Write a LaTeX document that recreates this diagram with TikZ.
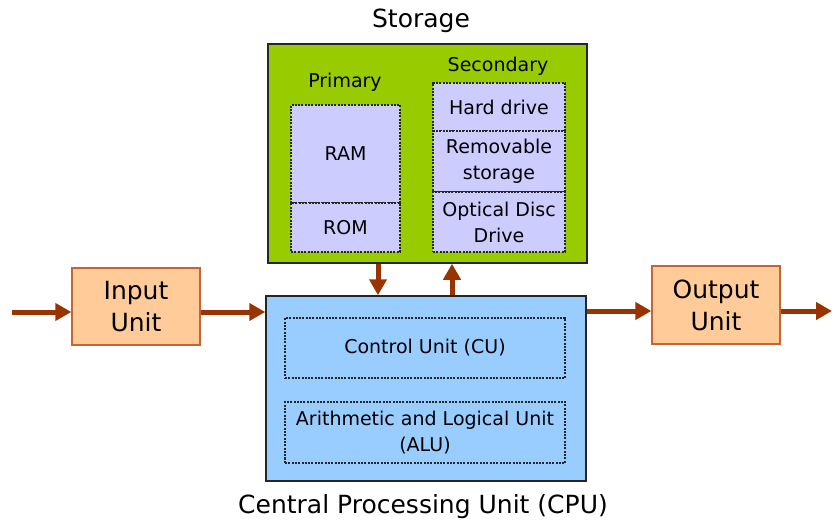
\documentclass[tikz,border=0pt]{standalone}
\usepackage{fontspec}
\setmainfont{DejaVu Sans}
\usetikzlibrary{arrows.meta}
\definecolor{stgreen}{RGB}{153,204,0}
\definecolor{lav}{RGB}{204,204,255}
\definecolor{cpublue}{RGB}{153,204,255}
\definecolor{peach}{RGB}{255,204,153}
\definecolor{peachline}{RGB}{200,100,50}
\definecolor{arrbrown}{RGB}{153,51,0}
\tikzset{
  solidbox/.style={draw=black!85, line width=1.5pt, inner sep=0pt},
  dotbox/.style={draw=black!85, line width=1.2pt, dash pattern=on 2pt off 1.3pt, fill=lav, inner sep=0pt, align=center, font=\fontsize{19}{26}\selectfont},
  cudot/.style={draw=black!85, line width=1.2pt, dash pattern=on 2pt off 1.3pt, inner sep=0pt, align=center, font=\fontsize{19}{26}\selectfont},
  iobox/.style={draw=peachline, line width=1.3pt, fill=peach, inner sep=0pt, align=center, font=\fontsize{25}{32}\selectfont, minimum width=128pt},
  lbl/.style={font=\fontsize{19}{22}\selectfont, inner sep=0pt},
  title/.style={font=\fontsize{25}{28}\selectfont, inner sep=0pt},
  arr/.style={draw=arrbrown, line width=5pt, -{Triangle[length=16pt,width=17pt]}}
}
\begin{document}
\begin{tikzpicture}[x=1pt,y=-1pt]
\useasboundingbox (0,0) rectangle (832,521);
% storage
\node[title] (sttitle) at (421,21) {Storage};
\node[solidbox, fill=stgreen, minimum width=319pt, minimum height=219pt] (storage) at (427.5,153.5) {};
\node[lbl] (primary) at (345,82) {Primary};
\node[lbl] (secondary) at (498,66) {Secondary};
\node[dotbox, minimum width=109pt, minimum height=98pt] (ram) at (345.5,154) {RAM};
\node[dotbox, minimum width=109pt, minimum height=49pt] (rom) at (345.5,227.5) {ROM};
\node[dotbox, minimum width=132pt, minimum height=48pt] (hd) at (499,107) {Hard drive};
\node[dotbox, minimum width=132pt, minimum height=61pt] (rem) at (499,161.5) {Removable\\storage};
\node[dotbox, minimum width=132pt, minimum height=60pt] (opt) at (499,222) {Optical Disc\\Drive};
% cpu
\node[solidbox, fill=cpublue, minimum width=320pt, minimum height=185pt] (cpu) at (426,388.5) {};
\node[cudot, minimum width=280pt, minimum height=60pt] (cu) at (425,348) {Control Unit (CU)};
\node[cudot, minimum width=280pt, minimum height=61pt] (alu) at (425,432.5) {Arithmetic and Logical Unit\\(ALU)};
\node[title] (cputitle) at (423,507) {Central Processing Unit (CPU)};
% io
\node[iobox, minimum height=77pt] (input) at (136,306.5) {Input\\Unit};
\node[iobox, minimum height=78pt] (output) at (716,305) {Output\\Unit};
% arrows
\coordinate (inStart) at (12,312);
\coordinate (outEnd) at (832,311);
\coordinate (downx) at (378,0);
\coordinate (upx) at (452,0);
\draw[arr] (inStart) -- (input.west |- inStart);
\draw[arr] (input.east |- inStart) -- (cpu.west |- inStart);
\draw[arr] (cpu.east |- outEnd) -- (output.west |- outEnd);
\draw[arr] (output.east |- outEnd) -- (outEnd);
\draw[arr] (storage.south -| downx) -- (cpu.north -| downx);
\draw[arr] (cpu.north -| upx) -- (storage.south -| upx);
\end{tikzpicture}
\end{document}
